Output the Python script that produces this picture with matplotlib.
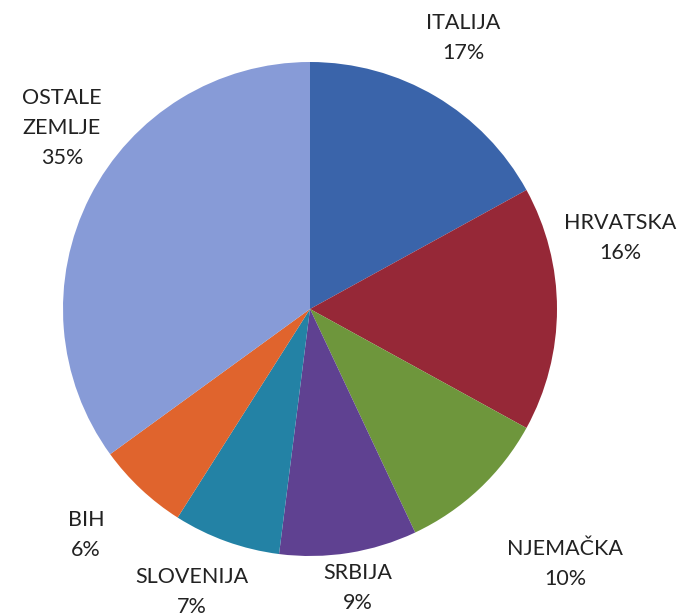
import matplotlib.pyplot as plt

countries = ['ITALIJA', 'HRVATSKA', 'NJEMAČKA', 'SRBIJA', 'SLOVENIJA', 'BIH', 'OSTALE\nZEMLJE']
shares = [17, 16, 10, 9, 7, 6, 35]
colors = ['#3a64aa', '#962837', '#6e963c', '#5f4191', '#2382a5', '#e0642d', '#879bd7']

# label centres in pixel coords (x, y from top)
label_pos = [(463, 38), (620, 238), (565, 564), (358, 588), (192, 592), (86, 535), (62, 128)]

W, H = 694, 616
fig = plt.figure(figsize=(W / 100, H / 100), dpi=100)
ax = fig.add_axes([0, 0, 1, 1])

ax.pie(shares, colors=colors, startangle=90, counterclock=False,
       center=(310, H - 309), radius=247, frame=True,
       wedgeprops=dict(linewidth=0))
ax.set_xlim(0, W)
ax.set_ylim(0, H)
ax.axis('off')

for name, val, (x, y) in zip(countries, shares, label_pos):
    ax.text(x, H - y, f'{name}\n{val}%', ha='center', va='center',
            fontsize=15.5, family='Lato', color='#222222', linespacing=1.6)

fig.savefig('out.png', dpi=100)
